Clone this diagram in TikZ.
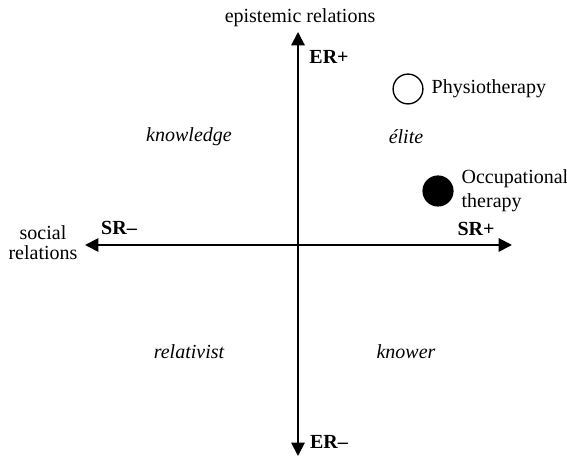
\documentclass[tikz,border=0pt]{standalone}
\usepackage{fontspec}
\setmainfont{Liberation Serif}
\usepackage{tikz}
\usetikzlibrary{arrows.meta,positioning}
\newcommand{\figfont}{\fontsize{10.4}{12.4}\selectfont}
\tikzset{
  % Axis with two heads
  axis/.style={line width=1pt,
               {Triangle[length=7pt,width=7pt]}-{Triangle[length=7pt,width=7pt]}},
  % Axis names and pole labels
  AN/.style={font=\figfont,align=center,inner sep=1pt},
  PL/.style={font=\figfont\bfseries,inner sep=1pt},
  % Quadrant (code) labels
  QL/.style={font=\figfont\itshape,inner sep=1pt},
  % Discipline markers
  discO/.style={circle,draw,line width=0.7pt,fill=white,minimum size=15.5pt,inner sep=0pt},
  discF/.style={circle,draw,line width=0.7pt,fill=black,minimum size=15.5pt,inner sep=0pt},
  DL/.style={font=\figfont,align=left,inner sep=1pt}
}
\begin{document}
\begin{tikzpicture}[x=0.52pt,y=-0.52pt]
  \useasboundingbox (0,0) rectangle (567,457);

  % --- axes ---
  \coordinate (ertop) at (298,32);
  \coordinate (erbot) at (298,456);
  \coordinate (srlft) at (85,245);
  \coordinate (srrgt) at (512,245);
  \draw[axis] (erbot) -- (ertop);
  \draw[axis] (srlft) -- (srrgt);

  \node[AN] (erel) at (300,18) {epistemic relations};
  \node[AN] (srel) at (43,243) {social\\[-2pt]relations};
  \node[PL] (erp) at (329,57)  {ER+};
  \node[PL] (erm) at (329,442) {ER\textendash};
  \node[PL] (srm) at (119,228) {SR\textendash};
  \node[PL] (srp) at (476,229) {SR+};

  % --- quadrants ---
  \node[QL] (know)  at (189,137) {knowledge};
  \node[QL] (elite) at (406,137) {élite};
  \node[QL] (rel)   at (189,352) {relativist};
  \node[QL] (kwr)   at (406,352) {knower};

  % --- disciplines ---
  \node[discO] (physio) at (408,89)  {};
  \node[DL,right=3pt of physio] (physiot) {Physiotherapy};
  \node[discF] (occup)  at (438,191) {};
  \node[DL,right=3pt of occup]  (occupt)  {Occupational\\therapy};
\end{tikzpicture}
\end{document}
